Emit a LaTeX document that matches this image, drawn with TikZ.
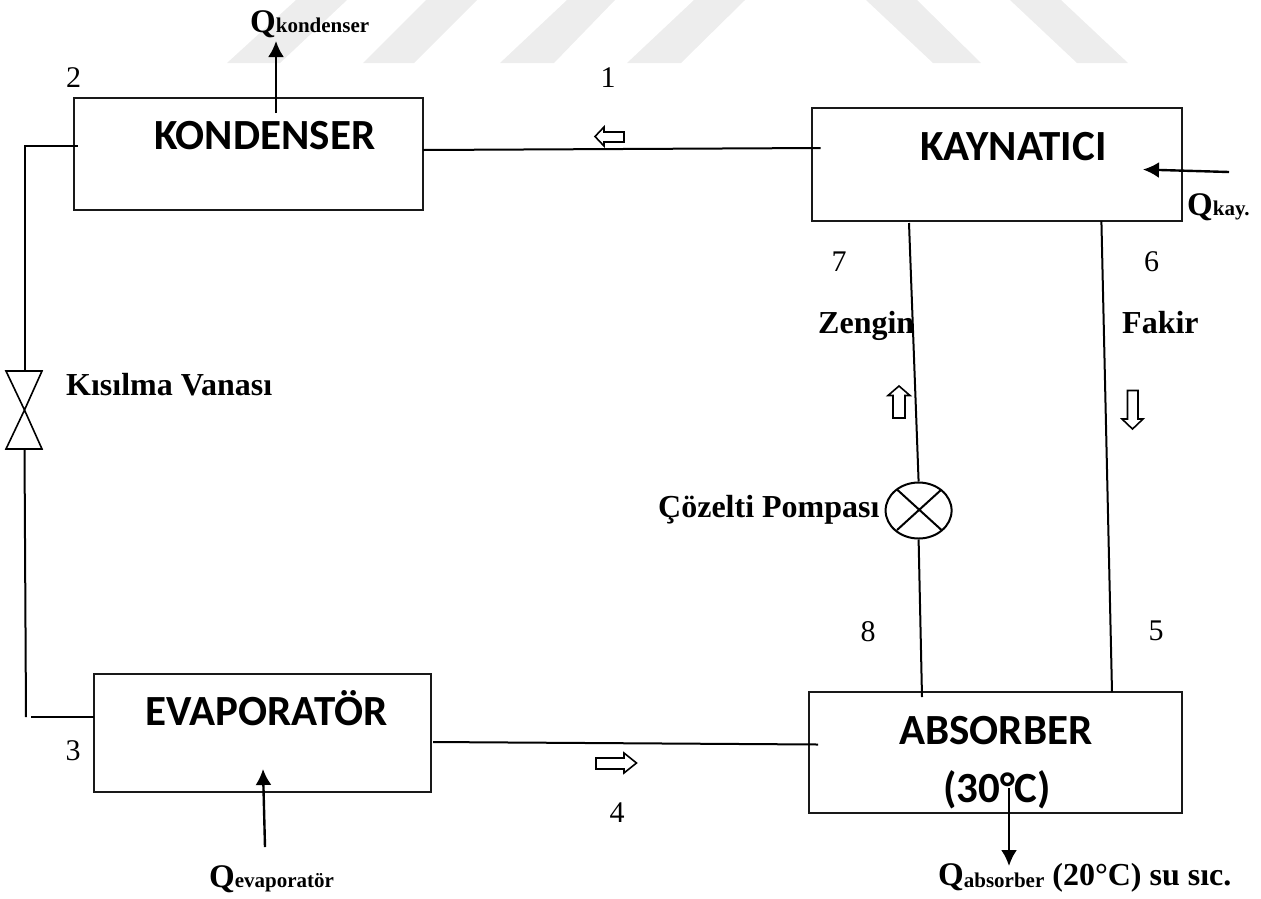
\documentclass[tikz,border=0pt]{standalone}
\usepackage{fontspec}
\setmainfont{Liberation Serif}
\newfontfamily\cali{Carlito}
\usetikzlibrary{arrows.meta,shapes.geometric}
\newcommand{\QL}[2]{{\fontsize{33}{36}\selectfont Q}{\fontsize{21}{24}\selectfont #1}#2}
\tikzset{
  unit/.style={draw=black!90,line width=2pt,rectangle,inner sep=0pt,outer sep=0pt},
  boxtext/.style={anchor=base west,inner sep=0pt,font=\cali\bfseries\fontsize{43}{48}\selectfont},
  numtext/.style={anchor=center,inner sep=0pt,font=\fontsize{30}{34}\selectfont},
  lbl/.style={anchor=base west,inner sep=0pt,font=\bfseries\fontsize{32}{36}\selectfont},
  qlbl/.style={anchor=base west,inner sep=0pt,font=\bfseries\fontsize{32}{36}\selectfont},
  pipe/.style={line width=2pt,black},
  heat/.style={line width=2.4pt,black,-{Latex[length=16pt,width=16pt]}},
  flow/.style={line width=1.6pt,draw=black,fill=white,line join=miter},
  wm/.style={fill=black!7,draw=none}
}
\begin{document}
\begin{tikzpicture}[x=1pt,y=-1pt]
\useasboundingbox (0,0) rectangle (1261,898);
% watermark
\fill[wm] (227,63)--(280,63)--(347,0)--(296,0)--cycle;
\fill[wm] (363,63)--(414,63)--(477,0)--(426,0)--cycle;
\fill[wm] (500,63)--(554,63)--(615,0)--(567,0)--cycle;
\fill[wm] (627,63)--(681,63)--(745,0)--(694,0)--cycle;
\fill[wm] (933,63)--(981,63)--(917,0)--(866,0)--cycle;
\fill[wm] (1077,63)--(1128,63)--(1061,0)--(1010,0)--cycle;
% units
\node[unit,minimum width=349pt,minimum height=112pt] (kond) at (248.5,154) {};
\node[unit,minimum width=370pt,minimum height=113pt] (kayn) at (997,164.5) {};
\node[unit,minimum width=337pt,minimum height=118pt] (evap) at (262,733) {};
\node[unit,minimum width=373pt,minimum height=121pt] (abso) at (995.5,752.5) {};
\node[boxtext] (tkond) at (154,149.5) {KONDENSER};
\node[boxtext] (tkayn) at (920,160) {KAYNATICI};
\node[boxtext] (tevap) at (145,725.5) {EVAPORATÖR};
\node[boxtext] (tabso) at (899,744) {ABSORBER};
\node[boxtext] (tabsb) at (943,802) {(30°C)};
% pump
\node[ellipse,draw,line width=2pt,minimum width=66pt,minimum height=56pt,inner sep=0pt] (pump) at (918.6,510.5) {};
\coordinate (pa) at (897,489.5); \coordinate (pb) at (941.5,530);
\coordinate (pc) at (941.5,489.5); \coordinate (pd) at (897,530);
\draw[pipe] (pa)--(pb) (pc)--(pd);
% valve
\coordinate (vt) at (24.5,371); \coordinate (vb) at (24.5,449); \coordinate (vm) at (24.5,410);
\draw[line width=1.6pt,line join=miter] (6,371)--(42,371)--(vm)--cycle;
\draw[line width=1.6pt,line join=miter] (6,449)--(42,449)--(vm)--cycle;
% connectors
\coordinate (k2) at (77.5,146); \coordinate (k2c) at (24.5,146);
\draw[pipe] (k2)--(k2c)--(vt);
\coordinate (e3) at (26,717); \coordinate (e3b) at (31,717); \coordinate (e3c) at (93.5,717);
\draw[pipe] (vb)--(e3);
\draw[pipe] (e3b)--(e3c);
\coordinate (c1a) at (423,150); \coordinate (c1b) at (820.5,148);
\draw[pipe] (c1a)--(c1b);
\coordinate (c4a) at (433,742); \coordinate (c4b) at (818,744.5);
\draw[pipe] (c4a)--(c4b);
\coordinate (c7) at (909,223); \coordinate (c8) at (922,697);
\draw[pipe] (c7)--(pump.north);
\draw[pipe] (pump.south)--(c8);
\coordinate (c6) at (1101.4,221); \coordinate (c5) at (1112,692);
\draw[pipe] (c6)--(c5);
% heat arrows
\coordinate (h1a) at (276,113); \coordinate (h1b) at (276,41);
\draw[heat] (h1a)--(h1b);
\coordinate (h2a) at (1229,172); \coordinate (h2b) at (1143,169.5);
\draw[heat] (h2a)--(h2b);
\coordinate (h3a) at (265,847); \coordinate (h3b) at (263,769);
\draw[heat] (h3a)--(h3b);
\coordinate (h4a) at (1009,788); \coordinate (h4b) at (1009,866);
\draw[heat] (h4a)--(h4b);
% flow direction arrows
\draw[flow] (595,136.5)--(604,127)--(604,132)--(624,132)--(624,142)--(604,142)--(604,146)--cycle;
\draw[flow] (636.5,763)--(624,753)--(624,758)--(596,758)--(596,769)--(624,769)--(624,773)--cycle;
\draw[flow] (899,386)--(888,395.5)--(893,395.5)--(893,418)--(905,418)--(905,395.5)--(910,395.5)--cycle;
\draw[flow] (1132.5,429)--(1122,419)--(1127.5,419)--(1127.5,390.5)--(1138,390.5)--(1138,419)--(1143,419)--cycle;
% numbers
\node[numtext] (n2) at (73.5,78) {2};
\node[numtext] (n1) at (608,78) {1};
\node[numtext] (n7) at (839,261.5) {7};
\node[numtext] (n6) at (1151.5,261.5) {6};
\node[numtext] (n8) at (868,632) {8};
\node[numtext] (n5) at (1156,631) {5};
\node[numtext] (n3) at (73,751) {3};
\node[numtext] (n4) at (617,812.5) {4};
% labels
\node[lbl] (lzen) at (818,333) {Zengin};
\node[lbl] (lfak) at (1122,333) {Fakir};
\node[lbl] (lpom) at (658,517) {Çözelti Pompası};
\node[lbl] (lkis) at (66,395) {Kısılma Vanası};
\node[qlbl] (qk) at (250,32) {\QL{kondenser}{}};
\node[qlbl] (qe) at (209,887) {\QL{evaporatör}{}};
\node[qlbl] (qy) at (1187,215) {\QL{kay.}{}};
\node[qlbl] (qa) at (938,885) {{\fontsize{33}{36}\selectfont Q}\raisebox{-2pt}{\fontsize{21}{24}\selectfont absorber} (20°C) su sıc.};
\end{tikzpicture}
\end{document}
